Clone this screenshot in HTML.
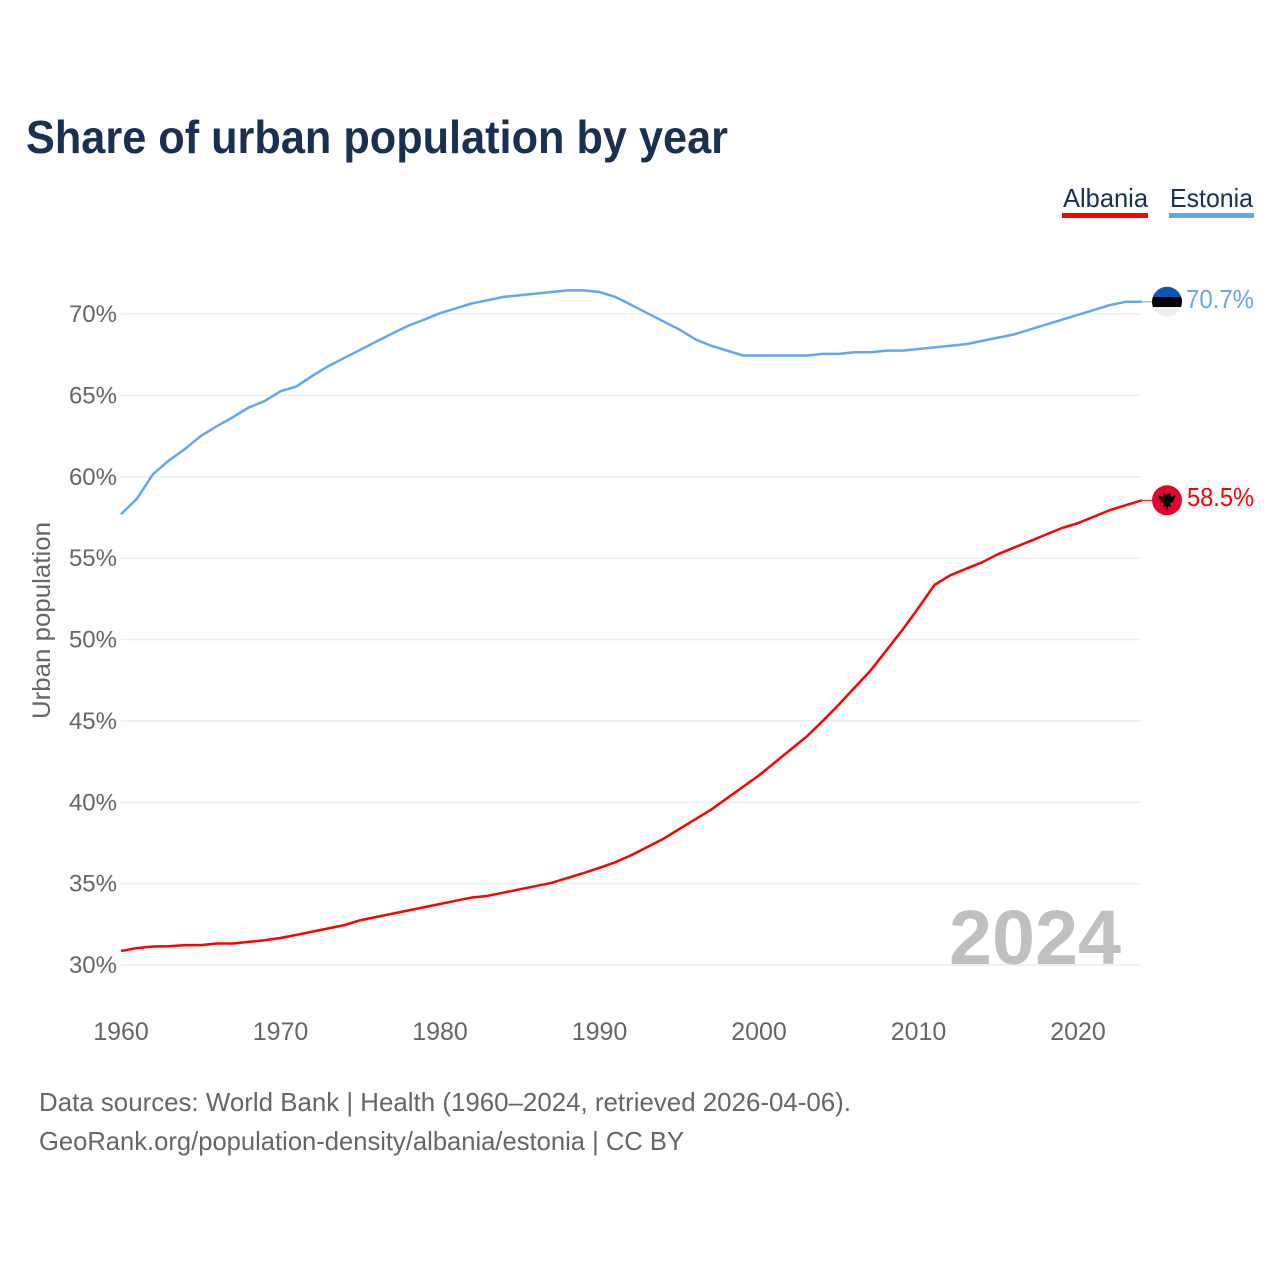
<!DOCTYPE html>
<html lang="en">
<head>
<meta charset="utf-8">
<title>Share of urban population by year</title>
<style>
html,body{margin:0;padding:0;background:#fff;}
svg{display:block;font-family:"Liberation Sans",sans-serif;}
</style>
</head>
<body>
<svg id="chart" xmlns="http://www.w3.org/2000/svg" width="1280" height="1280" viewBox="0 0 1280 1280">
<rect x="0" y="0" width="1280" height="1280" fill="#ffffff"/>
<text x="26" y="153" font-size="46" font-weight="700" fill="#1a3050" textLength="702" lengthAdjust="spacingAndGlyphs">Share of urban population by year</text>
<g>
<text x="1063" y="207" font-size="26" fill="#1a3050" textLength="85" lengthAdjust="spacingAndGlyphs">Albania</text>
<rect x="1062" y="213" width="86" height="5" fill="#ff0000"/>
</g>
<g>
<text x="1170" y="207" font-size="26" fill="#1a3050" textLength="83" lengthAdjust="spacingAndGlyphs">Estonia</text>
<rect x="1169" y="213" width="85" height="5" fill="#62a8ee"/>
</g>
<g id="grid"></g>
<g id="yticks"></g>
<g id="xticks"></g>
<text transform="translate(50,719) rotate(-90)" x="0" y="0" font-size="25" fill="#666666" textLength="197" lengthAdjust="spacingAndGlyphs">Urban population</text>
<text x="949" y="964" font-size="77" font-weight="700" fill="#c0c0c0" textLength="172" lengthAdjust="spacingAndGlyphs">2024</text>
<g id="series"></g>
<defs>
<clipPath id="clip-ee"><circle cx="1167" cy="301.7" r="15"/></clipPath>
</defs>
<g clip-path="url(#clip-ee)">
<rect x="1152" y="286" width="30" height="11" fill="#0a56b0"/>
<rect x="1152" y="297" width="30" height="10" fill="#000000"/>
<rect x="1152" y="307" width="30" height="11" fill="#eeeeee"/>
</g>
<g>
<circle cx="1167" cy="500.3" r="15" fill="#e0042e"/>
<path d="M1158 495 L1163 497 L1164 493 L1167 495 L1170 493 L1171 497 L1176 495 L1173 502 L1170 503 L1171 507 L1168 506 L1167 511 L1166 506 L1163 507 L1164 503 L1161 502 Z" fill="#000000"/>
</g>
<text x="1186" y="308" font-size="26" fill="#62a8ee" textLength="68" lengthAdjust="spacingAndGlyphs">70.7%</text>
<text x="1187" y="506" font-size="26" fill="#ff0000" textLength="67" lengthAdjust="spacingAndGlyphs">58.5%</text>
<text x="39" y="1111" font-size="26" fill="#666666" textLength="812" lengthAdjust="spacingAndGlyphs">Data sources: World Bank | Health (1960–2024, retrieved 2026-04-06).</text>
<text x="39" y="1150" font-size="26" fill="#666666" textLength="645" lengthAdjust="spacingAndGlyphs">GeoRank.org/population-density/albania/estonia | CC BY</text>
</svg>
<script>
const firstYear = 1960;
const yTickValues = [30, 35, 40, 45, 50, 55, 60, 65, 70];
const xTickValues = [1960, 1970, 1980, 1990, 2000, 2010, 2020];
const albaniaValues = [30.86, 31.04, 31.14, 31.15, 31.22, 31.22, 31.32, 31.32, 31.42, 31.52,
  31.66, 31.85, 32.05, 32.25, 32.45, 32.75, 32.95, 33.15, 33.35, 33.55,
  33.75, 33.95, 34.15, 34.25, 34.45, 34.65, 34.85, 35.05, 35.35, 35.65,
  35.97, 36.32, 36.75, 37.25, 37.75, 38.35, 38.95, 39.55, 40.25, 40.95,
  41.65, 42.45, 43.25, 44.05, 45.0, 46.0, 47.05, 48.1, 49.35, 50.6,
  51.95, 53.35, 53.95, 54.35, 54.75, 55.25, 55.65, 56.05, 56.45, 56.85,
  57.15, 57.55, 57.95, 58.25, 58.55];
const estoniaValues = [57.7, 58.65, 60.15, 61.0, 61.7, 62.5, 63.1, 63.65, 64.25, 64.65,
  65.25, 65.55, 66.2, 66.8, 67.3, 67.8, 68.3, 68.8, 69.27, 69.65,
  70.05, 70.35, 70.65, 70.85, 71.05, 71.15, 71.25, 71.35, 71.45, 71.45,
  71.35, 71.05, 70.55, 70.05, 69.55, 69.05, 68.45, 68.05, 67.75, 67.45,
  67.45, 67.45, 67.45, 67.45, 67.55, 67.55, 67.65, 67.65, 67.75, 67.75,
  67.85, 67.95, 68.05, 68.15, 68.35, 68.55, 68.75, 69.05, 69.35, 69.65,
  69.95, 70.25, 70.55, 70.75, 70.75];

const NS = 'http://www.w3.org/2000/svg';
function xScale(year) { return 121 + (year - 1960) * 15.95; }
function yScale(value) { return 965 - (value - 30) * 16.275; }

const grid = document.getElementById('grid');
const yticks = document.getElementById('yticks');
const xticks = document.getElementById('xticks');
const series = document.getElementById('series');

yTickValues.forEach(function (v) {
  const line = document.createElementNS(NS, 'line');
  
  
  line.setAttribute('x1', 121);
  line.setAttribute('x2', 1141);
  line.setAttribute('y1', yScale(v));
  line.setAttribute('y2', yScale(v));
  line.setAttribute('stroke', '#eeeeee');
  line.setAttribute('stroke-width', 1.6);
  grid.appendChild(line);

  const t = document.createElementNS(NS, 'text');
  
  
  t.setAttribute('x', 117);
  t.setAttribute('y', yScale(v) + 8);
  t.setAttribute('text-anchor', 'end');
  t.setAttribute('font-size', 24);
  t.setAttribute('fill', '#666666');
  t.textContent = v + '%';
  yticks.appendChild(t);
});

xTickValues.forEach(function (y) {
  const t = document.createElementNS(NS, 'text');
  
  
  t.setAttribute('x', xScale(y));
  t.setAttribute('y', 1040);
  t.setAttribute('text-anchor', 'middle');
  t.setAttribute('font-size', 25);
  t.setAttribute('fill', '#666666');
  t.textContent = String(y);
  xticks.appendChild(t);
});

function pointsFor(values) {
  return values.map(function (v, i) {
    return xScale(firstYear + i).toFixed(2) + ',' + yScale(v).toFixed(2);
  }).join(' ');
}

function drawSeries(values, color, name) {
  const line = document.createElementNS(NS, 'polyline');
  
  
  line.setAttribute('points', pointsFor(values));
  line.setAttribute('fill', 'none');
  line.setAttribute('stroke', color);
  line.setAttribute('stroke-width', 2.5);
  line.setAttribute('stroke-linejoin', 'round');
  series.appendChild(line);

  const lastY = yScale(values[values.length - 1]);
  const connector = document.createElementNS(NS, 'line');
  
  
  connector.setAttribute('x1', xScale(firstYear + values.length - 1));
  connector.setAttribute('x2', 1152);
  connector.setAttribute('y1', lastY);
  connector.setAttribute('y2', lastY);
  connector.setAttribute('stroke', color);
  connector.setAttribute('stroke-width', 1);
  series.appendChild(connector);
}

drawSeries(estoniaValues, '#62a8ee', 'line-estonia');
drawSeries(albaniaValues, '#ff0000', 'line-albania');
</script>
</body>
</html>
